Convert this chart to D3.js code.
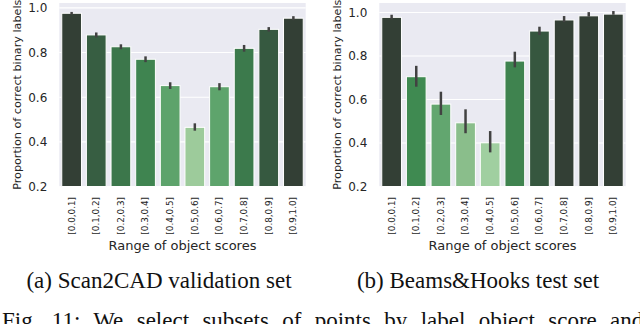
<!DOCTYPE html>
<html>
<head>
<meta charset="utf-8">
<script src="https://cdn.jsdelivr.net/npm/d3@7"></script>
<style>
  html, body { margin: 0; padding: 0; background: #ffffff; }
  svg { display: block; }
</style>
</head>
<body>
<svg id="chart" width="640" height="324"></svg>
<script>
// ---------------- data ----------------
const categories = ["[0.0,0.1]", "[0.1,0.2]", "[0.2,0.3]", "[0.3,0.4]", "[0.4,0.5]",
                    "[0.5,0.6]", "[0.6,0.7]", "[0.7,0.8]", "[0.8,0.9]", "[0.9,1.0]"];

const scan2cadValues = [0.976, 0.879, 0.826, 0.770, 0.652, 0.465, 0.647, 0.819, 0.904, 0.954];
const scan2cadLow    = [0.970, 0.868, 0.815, 0.757, 0.637, 0.450, 0.631, 0.804, 0.894, 0.945];
const scan2cadHigh   = [0.982, 0.890, 0.837, 0.783, 0.667, 0.483, 0.663, 0.834, 0.914, 0.963];

const beamsValues = [0.978, 0.705, 0.579, 0.493, 0.401, 0.777, 0.915, 0.966, 0.985, 0.993];
const beamsLow    = [0.969, 0.659, 0.529, 0.445, 0.357, 0.748, 0.897, 0.956, 0.981, 0.990];
const beamsHigh   = [0.990, 0.755, 0.636, 0.555, 0.455, 0.820, 0.935, 0.984, 1.002, 1.007];

const yTicks = [0.2, 0.4, 0.6, 0.8, 1.0];

const yLabel = "Proportion of correct binary labels";
const xLabel = "Range of object scores";
const captionA = "(a) Scan2CAD validation set";
const captionB = "(b) Beams&Hooks test set";
const figCaption = "Fig. 11: We select subsets of points by label object score and";

// ---------------- styling ----------------
const colorScale = d3.scaleLinear()
  .domain([0.40, 0.465, 0.49, 0.58, 0.65, 0.705, 0.77, 0.82, 0.88, 0.915, 0.95])
  .range(["#a0cfa0", "#9dcb9b", "#8bbf8c", "#62a66f", "#5ea46c", "#3f8a51",
          "#3f8450", "#3c7a4c", "#375e42", "#36573f", "#333f35"])
  .clamp(true);

const svg = d3.select("#chart");
const sans = "'DejaVu Sans', sans-serif";
const serif = "'Liberation Serif', 'Times New Roman', serif";

function panel(cfg) {
  const g = svg.append("g");
  const x = d3.scaleBand().domain(categories).range([cfg.x0, cfg.x1])
    .paddingInner(0.2).paddingOuter(0.1);
  const y = d3.scaleLinear().domain([0.2, cfg.yMax]).range([cfg.yBottom, cfg.yTop]);

  // background
  g.append("rect")
    .attr("x", cfg.x0).attr("y", cfg.yTop)
    .attr("width", cfg.x1 - cfg.x0).attr("height", cfg.yBottom - cfg.yTop)
    .attr("fill", "#eaeaf2");

  // gridlines
  g.selectAll("line.grid").data(yTicks).enter().append("line")
    .attr("class", "grid")
    .attr("x1", cfg.x0).attr("x2", cfg.x1)
    .attr("y1", d => y(d)).attr("y2", d => y(d))
    .attr("stroke", "#ffffff").attr("stroke-width", 1.1);

  // bars
  g.selectAll("rect.bar").data(cfg.values).enter().append("rect")
    .attr("class", "bar")
    .attr("x", (d, i) => x(categories[i]))
    .attr("width", x.bandwidth())
    .attr("y", d => y(d))
    .attr("height", d => y(0.2) - y(d))
    .attr("fill", d => colorScale(d))
    .attr("stroke", "#ffffff").attr("stroke-width", 1);

  // error bars
  g.selectAll("line.err").data(cfg.values).enter().append("line")
    .attr("class", "err")
    .attr("x1", (d, i) => x(categories[i]) + x.bandwidth() / 2)
    .attr("x2", (d, i) => x(categories[i]) + x.bandwidth() / 2)
    .attr("y1", (d, i) => y(cfg.low[i]))
    .attr("y2", (d, i) => y(cfg.high[i]))
    .attr("stroke", "#424242").attr("stroke-width", 2.5);

  // y axis
  const yAxis = d3.axisLeft(y).tickValues(yTicks).tickFormat(d3.format(".1f"))
    .tickSize(0).tickPadding(12);
  const ya = g.append("g").attr("transform", `translate(${cfg.x0},0)`).call(yAxis);
  ya.select(".domain").remove();
  ya.selectAll("text").attr("font-family", sans).attr("font-size", 12).attr("fill", "#262626");

  // x axis
  const xAxis = d3.axisBottom(x).tickSize(0).tickPadding(0);
  const xa = g.append("g").attr("transform", `translate(0,${cfg.yBottom})`).call(xAxis);
  xa.select(".domain").remove();
  xa.selectAll("text")
    .attr("font-family", sans).attr("font-size", 8.8).attr("fill", "#262626")
    .attr("text-anchor", "end")
    .attr("dy", "0.33em")
    .attr("transform", "translate(0,10.5) rotate(-90)")
    .attr("x", 0).attr("y", 0);

  // axis labels
  g.append("text")
    .attr("transform", `translate(${cfg.yLabelX},${(cfg.yTop + cfg.yBottom) / 2}) rotate(-90)`)
    .attr("text-anchor", "middle").attr("dy", "0.35em")
    .attr("font-family", sans).attr("font-size", 11.2).attr("fill", "#262626")
    .text(yLabel);

  g.append("text")
    .attr("x", (cfg.x0 + cfg.x1) / 2).attr("y", 250)
    .attr("text-anchor", "middle")
    .attr("font-family", sans).attr("font-size", 13).attr("fill", "#262626")
    .text(xLabel);

  // sub caption
  g.append("text")
    .attr("x", cfg.capX).attr("y", 288)
    .attr("text-anchor", "middle")
    .attr("font-family", serif).attr("font-size", 23).attr("fill", "#111111")
    .text(cfg.caption);
}

panel({ x0: 59.3, x1: 305.7, yTop: 3, yBottom: 186.5, yMax: 1.022,
        values: scan2cadValues, low: scan2cadLow, high: scan2cadHigh,
        yLabelX: 17, capX: 159, caption: captionA });
panel({ x0: 379.3, x1: 625.7, yTop: 3, yBottom: 186.5, yMax: 1.044,
        values: beamsValues, low: beamsLow, high: beamsHigh,
        yLabelX: 337, capX: 478, caption: captionB });

svg.append("text")
  .attr("x", 2).attr("y", 328)
  .attr("font-family", serif).attr("font-size", 23).attr("fill", "#111111")
  .style("word-spacing", "7.6px")
  .text(figCaption);
</script>
</body>
</html>
